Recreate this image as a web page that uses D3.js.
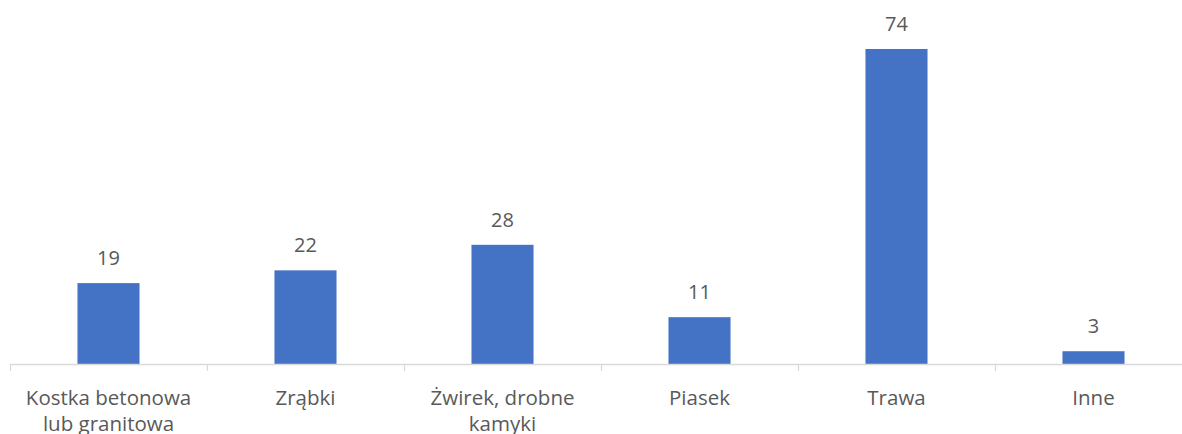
<!DOCTYPE html>
<html lang="pl">
<head>
<meta charset="UTF-8">
<title>Nawierzchnia</title>
<script src="https://d3js.org/d3.v7.min.js"></script>
<style>
  body { margin: 0; background: #fff; }
  svg { display: block; }
  text { font-family: "Open Sans", "Noto Sans", sans-serif; fill: #595959; }
</style>
</head>
<body>
<div id="chart"></div>
<script>
// Data
var categories = ["Kostka betonowa\nlub granitowa", "Zrąbki", "Żwirek, drobne\nkamyki", "Piasek", "Trawa", "Inne"];
var values = [19, 22, 28, 11, 74, 3];

var width = 1182, height = 434;
var baseY = 364;

var svg = d3.select("#chart").append("svg")
    .attr("width", width)
    .attr("height", height);

var x = d3.scaleBand()
    .domain(categories)
    .range([10, 1192])
    .paddingInner(0.685)
    .paddingOuter(0.3425);

var y = d3.scaleLinear()
    .domain([0, 80])
    .range([baseY, baseY - 80 * 4.257]);

// bars
svg.selectAll("rect.bar")
    .data(values)
    .enter().append("rect")
    .attr("class", "bar")
    .attr("x", function(d, i) { return x(categories[i]); })
    .attr("y", function(d) { return y(d); })
    .attr("width", x.bandwidth())
    .attr("height", function(d) { return y(0) - y(d); })
    .style("fill", "#4472c4");

// value labels
svg.selectAll("text.val")
    .data(values)
    .enter().append("text")
    .attr("class", "val")
    .attr("x", function(d, i) { return x(categories[i]) + x.bandwidth() / 2; })
    .attr("y", function(d) { return y(d) - 18; })
    .attr("text-anchor", "middle")
    .style("font-size", "20px")
    .text(function(d) { return d; });

// axis line
svg.append("line")
    .attr("x1", 10).attr("x2", 1192)
    .attr("y1", baseY + 0.5).attr("y2", baseY + 0.5)
    .style("stroke", "#d9d9d9")
    .style("stroke-width", 1.3);

// ticks at category boundaries
var step = x.step();
var edges = d3.range(categories.length + 1).map(function(i) { return 10 + i * step; });
svg.selectAll("line.tick")
    .data(edges)
    .enter().append("line")
    .attr("class", "tick")
    .attr("x1", function(d) { return Math.round(d) + 0.5; })
    .attr("x2", function(d) { return Math.round(d) + 0.5; })
    .attr("y1", baseY).attr("y2", baseY + 7)
    .style("stroke", "#d9d9d9")
    .style("stroke-width", 1.3);

// category labels
var labels = svg.selectAll("text.cat")
    .data(categories)
    .enter().append("text")
    .attr("class", "cat")
    .attr("text-anchor", "middle")
    .style("font-size", "20.5px")
    .attr("transform", function(d) { return "translate(" + (x(d) + x.bandwidth() / 2) + ",405)"; });

labels.selectAll("tspan")
    .data(function(d) { return d.split("\n"); })
    .enter().append("tspan")
    .attr("x", 0)
    .attr("dy", function(d, i) { return i === 0 ? 0 : 26; })
    .text(function(d) { return d; });
</script>
</body>
</html>
